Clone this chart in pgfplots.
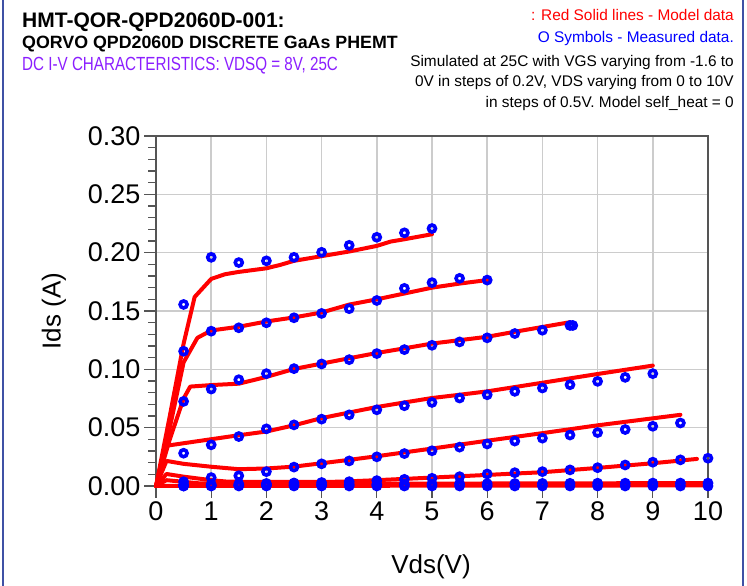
\documentclass[border=0pt]{standalone}
\usepackage{pgfplots}
\pgfplotsset{compat=1.18}
\usepackage{fontspec}
\setmainfont{Liberation Sans}
\newfontfamily\narrowfont{Liberation Sans}[FakeStretch=0.8]
\definecolor{framecol}{HTML}{3F51A5}
\definecolor{purp}{HTML}{8B1EFF}
\definecolor{gridc}{HTML}{CCCCCC}
\definecolor{axc}{HTML}{555555}
\begin{document}
\begin{tikzpicture}[x=1pt,y=1pt]
\path[use as bounding box] (0,0) rectangle (747,586);
\draw[framecol, line width=2pt] (3,0)--(3,586);
\draw[framecol, line width=2pt] (743,0)--(743,586);
% titles
\node[anchor=base west, inner sep=0] at (22,558) {\fontsize{21}{24}\selectfont\bfseries HMT-QOR-QPD2060D-001:};
\node[anchor=base west, inner sep=0] at (22,537) {\fontsize{17.8}{20}\selectfont\bfseries QORVO QPD2060D DISCRETE GaAs PHEMT};
\node[anchor=base west, inner sep=0, text=purp] at (22,515) {\narrowfont\fontsize{19}{21}\selectfont DC I-V CHARACTERISTICS: VDSQ = 8V, 25C};
\node[anchor=base east, inner sep=0, text=red] at (734,565) {\fontsize{15.4}{18}\selectfont : Red Solid lines - Model data};
\node[anchor=base east, inner sep=0, text=blue] at (734,543) {\fontsize{15.4}{18}\selectfont O Symbols - Measured data.};
\node[anchor=base east, inner sep=0] at (734,519) {\fontsize{15.4}{18}\selectfont Simulated at 25C with VGS varying from -1.6 to};
\node[anchor=base east, inner sep=0] at (734,499) {\fontsize{15.4}{18}\selectfont 0V in steps of 0.2V, VDS varying from 0 to 10V};
\node[anchor=base east, inner sep=0] at (734,478) {\fontsize{15.4}{18}\selectfont in steps of 0.5V. Model self\_heat = 0};
\node[rotate=90, inner sep=0] at (54,275) {\fontsize{26}{28}\selectfont Ids (A)};
\node[anchor=base, inner sep=0] at (431,12) {\fontsize{26}{28}\selectfont Vds(V)};
\begin{axis}[
  at={(156pt,100pt)}, anchor=south west, scale only axis,
  width=552pt, height=350pt,
  xmin=0, xmax=10, ymin=0, ymax=0.30,
  xtick={0,1,2,3,4,5,6,7,8,9,10},
  ytick={0,0.05,0.1,0.15,0.2,0.25,0.3},
  minor y tick num=4,
  tick pos=left, tick align=outside,
  major tick length=12pt, minor tick length=8pt,
  every tick/.style={axc, line width=1.2pt},
  grid=major, major grid style={gridc, line width=1.5pt},
  axis line style={axc, line width=1.5pt},
  /pgf/number format/assume math mode=true,
  ticklabel style={font=\fontsize{27}{29}\selectfont},
  yticklabel style={/pgf/number format/.cd, fixed, fixed zerofill, precision=2},
  xticklabel style={/pgf/number format/.cd, fixed, precision=0},
  clip=false,
]
% measured data
\pgfplotsset{meas/.style={only marks, mark=o, blue, mark size=3.5pt, line width=3.6pt}}
\pgfplotsset{mod/.style={red, line width=4pt, line join=round, line cap=round, no marks}}
\addplot[meas] coordinates {(0.5,0.1556)(1,0.196)(1.5,0.1915)(2,0.193)(2.5,0.196)(3,0.2003)(3.5,0.2063)(4,0.2132)(4.5,0.217)(5,0.2207)};
\addplot[meas] coordinates {(0.5,0.1155)(1,0.1327)(1.5,0.1356)(2,0.1399)(2.5,0.1442)(3,0.1479)(3.5,0.152)(4,0.159)(4.5,0.1694)(5,0.1743)(5.5,0.178)(6,0.1765)};
\addplot[meas] coordinates {(0.5,0.0725)(1,0.0831)(1.5,0.0911)(2,0.0963)(2.5,0.1006)(3,0.1046)(3.5,0.1083)(4,0.1135)(4.5,0.1169)(5,0.1206)(5.5,0.1235)(6,0.127)(6.5,0.1307)(7,0.1335)(7.5,0.1376)(7.55,0.1376)};
\addplot[meas] coordinates {(0.5,0.0281)(1,0.0353)(1.5,0.0424)(2,0.049)(2.5,0.0524)(3,0.0573)(3.5,0.061)(4,0.0653)(4.5,0.0688)(5,0.0716)(5.5,0.0754)(6,0.0782)(6.5,0.0811)(7,0.084)(7.5,0.0868)(8,0.0897)(8.5,0.0931)(9,0.0963)};
\addplot[meas] coordinates {(0.5,0.0037)(1,0.0072)(1.5,0.0088)(2,0.0123)(2.5,0.0162)(3,0.019)(3.5,0.0215)(4,0.025)(4.5,0.0278)(5,0.0302)(5.5,0.0333)(6,0.036)(6.5,0.0385)(7,0.041)(7.5,0.0437)(8,0.0458)(8.5,0.0484)(9,0.0512)(9.5,0.054)};
\addplot[meas] coordinates {(0.5,0.0012)(1,0.0015)(1.5,0.0018)(2,0.0022)(2.5,0.0026)(3,0.003)(3.5,0.0037)(4,0.0046)(4.5,0.0057)(5,0.0066)(5.5,0.008)(6,0.0103)(6.5,0.0114)(7,0.0123)(7.5,0.0138)(8,0.0157)(8.5,0.018)(9,0.0204)(9.5,0.0224)(10,0.0238)};
\addplot[meas] coordinates {(0.5,0.0)(1,0.0003)(1.5,0.0005)(2,0.0008)(2.5,0.001)(3,0.0012)(3.5,0.0014)(4,0.0015)(4.5,0.0017)(5,0.0018)(5.5,0.002)(6,0.002)(6.5,0.0021)(7,0.0022)(7.5,0.0023)(8,0.0024)(8.5,0.0024)(9,0.0025)(9.5,0.0025)(10,0.0025)};
\addplot[meas] coordinates {(0.5,0)(1,0)(1.5,0)(2,0)(2.5,0)(3,0)(3.5,0)(4,0)(4.5,0)(5,0)(5.5,0)(6,0)(6.5,0)(7,0)(7.5,0)(8,0)(8.5,0)(9,0)(9.5,0)(10,0)};
% model lines
\addplot[mod] coordinates {(0,0)(0.25,0.06)(0.5,0.122)(0.7,0.162)(1.0,0.1775)(1.25,0.1815)(1.5,0.1835)(2,0.1866)(2.25,0.1895)(2.5,0.193)(3,0.197)(3.5,0.201)(4,0.2058)(4.25,0.2095)(4.5,0.2115)(5,0.2158)};
\addplot[mod] coordinates {(0,0)(0.25,0.05)(0.5,0.106)(0.75,0.127)(1,0.1333)(1.5,0.1365)(2,0.141)(2.5,0.1445)(3,0.1487)(3.5,0.1555)(4,0.16)(4.5,0.165)(5,0.17)(5.5,0.1735)(6,0.1765)};
\addplot[mod] coordinates {(0,0)(0.25,0.04)(0.5,0.075)(0.62,0.0852)(1,0.0865)(1.5,0.0877)(2,0.0935)(2.5,0.1003)(3,0.1049)(3.5,0.1095)(4,0.114)(4.5,0.118)(5,0.1221)(5.5,0.125)(6,0.1279)(6.5,0.1322)(7,0.1363)(7.5,0.1404)};
\addplot[mod] coordinates {(0,0)(0.19,0.0345)(1,0.0401)(1.5,0.0435)(2,0.0467)(2.5,0.052)(3,0.0582)(3.5,0.063)(4,0.0677)(4.5,0.0716)(5,0.0754)(5.5,0.0782)(6,0.0811)(7,0.0885)(8,0.096)(9,0.1032)};
\addplot[mod] coordinates {(0,0)(0.19,0.0215)(0.5,0.019)(1,0.0165)(1.5,0.0144)(2,0.015)(2.5,0.0166)(3,0.0195)(3.5,0.0224)(4,0.0255)(5,0.0321)(6,0.0388)(7,0.0453)(8,0.052)(9,0.058)(9.5,0.061)};
\addplot[mod] coordinates {(0,0)(0.19,0.0103)(0.5,0.008)(1,0.005)(1.3,0.0037)(2,0.0035)(3,0.0035)(3.35,0.0037)(4,0.005)(5,0.0072)(6,0.0095)(7,0.0118)(8,0.0155)(9,0.0195)(9.8,0.0232)};
\addplot[mod] coordinates {(0,0)(0.19,0.005)(0.8,0.0022)(2,0.0018)(10,0.0025)};
\addplot[mod] coordinates {(0,0)(10,0.0005)};
\end{axis}
\end{tikzpicture}
\end{document}
